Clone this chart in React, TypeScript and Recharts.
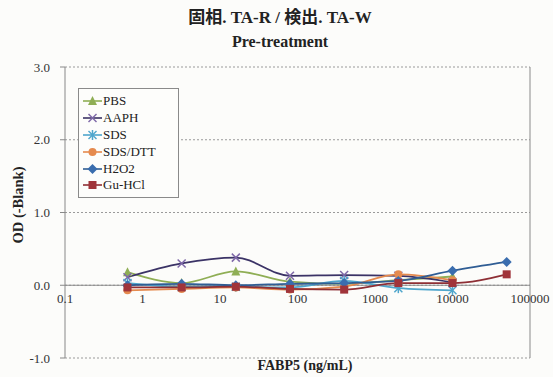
import { LineChart, Line, XAxis, YAxis, CartesianGrid, ReferenceLine } from "recharts";

// FABP5 concentrations (5-fold dilution series, ng/mL)
const conc = [0.64, 3.2, 16, 80, 400, 2000, 10000, 50000];

const pbs = [0.18, 0.03, 0.19, 0.05, 0.02, 0.07, 0.12];
const aaph = [0.11, 0.3, 0.38, 0.13, 0.14, 0.13, 0.04];
const sds = [0.03, -0.02, -0.02, -0.03, 0.06, -0.04, -0.07];
const sdsDtt = [-0.07, -0.05, -0.03, -0.06, -0.02, 0.15, 0.07];
const h2o2 = [0.0, 0.02, 0.0, 0.02, 0.03, 0.06, 0.2, 0.32];
const guHcl = [-0.03, -0.03, -0.02, -0.05, -0.06, 0.03, 0.03, 0.15];

const xTicks = [0.1, 1, 10, 100, 1000, 10000, 100000];
const yTicks = [-1, 0, 1, 2, 3];

const W = 553;
const H = 377;
const X_AXIS_H = 19;
const M = { top: 67, right: 23, bottom: 0, left: 20 };
const Y_AXIS_W = 45;
const PLOT_H = H - M.top - M.bottom - X_AXIS_H;
const ZERO_Y = M.top + (PLOT_H * 3) / 4;

const FONT = "'Liberation Serif', 'Times New Roman', serif";

type Shape = "triangle" | "x" | "star" | "circle" | "diamond" | "square";

const toPoints = (vals: number[]) => vals.map((v, i) => ({ x: conc[i], y: v }));

const series: { name: string; vals: number[]; stroke: string; fill: string; shape: Shape }[] = [
  { name: "PBS", vals: pbs, stroke: "#8FAE55", fill: "#8FAE55", shape: "triangle" },
  { name: "AAPH", vals: aaph, stroke: "#3B3366", fill: "#7E68A8", shape: "x" },
  { name: "SDS", vals: sds, stroke: "#4FA6CC", fill: "#4FA6CC", shape: "star" },
  { name: "SDS/DTT", vals: sdsDtt, stroke: "#E58A4E", fill: "#E58A4E", shape: "circle" },
  { name: "H2O2", vals: h2o2, stroke: "#2F5D94", fill: "#3A6DAE", shape: "diamond" },
  { name: "Gu-HCl", vals: guHcl, stroke: "#8E2F35", fill: "#A0343A", shape: "square" },
];

function Marker({ cx, cy, shape, color }: { cx: number; cy: number; shape: Shape; color: string }) {
  const s = 4;
  switch (shape) {
    case "triangle":
      return <polygon points={`${cx},${cy - s - 1} ${cx - s - 0.5},${cy + s} ${cx + s + 0.5},${cy + s}`} fill={color} />;
    case "x":
      return (
        <g stroke={color} strokeWidth={1.5}>
          <line x1={cx - s} y1={cy - s} x2={cx + s} y2={cy + s} />
          <line x1={cx - s} y1={cy + s} x2={cx + s} y2={cy - s} />
        </g>
      );
    case "star":
      return (
        <g stroke={color} strokeWidth={1.5}>
          <line x1={cx - s} y1={cy - s} x2={cx + s} y2={cy + s} />
          <line x1={cx - s} y1={cy + s} x2={cx + s} y2={cy - s} />
          <line x1={cx} y1={cy - s - 1} x2={cx} y2={cy + s + 1} />
        </g>
      );
    case "circle":
      return <circle cx={cx} cy={cy} r={s} fill={color} />;
    case "diamond":
      return <polygon points={`${cx},${cy - s - 1} ${cx + s + 1},${cy} ${cx},${cy + s + 1} ${cx - s - 1},${cy}`} fill={color} />;
    default:
      return <rect x={cx - s} y={cy - s} width={2 * s} height={2 * s} fill={color} />;
  }
}

// x tick labels sit just under the zero line, not at the bottom of the plot
function XTick({ x, payload }: any) {
  return (
    <text x={x} y={ZERO_Y + 18} textAnchor="middle" fontFamily={FONT} fontSize={13} fill="#333">
      {String(payload.value)}
    </text>
  );
}

function LegendBox() {
  return (
    <div
      style={{
        position: "absolute",
        left: 78,
        top: 88,
        border: "1px solid #8a8a8a",
        padding: "4px 6px 3px 4px",
        fontFamily: FONT,
        fontSize: 13,
        color: "#222",
        background: "#fdfdfb",
        width: 89,
        zIndex: 2,
      }}
    >
      {series.map((s) => (
        <div key={s.name} style={{ display: "flex", alignItems: "center", height: 16.8 }}>
          <svg width={19} height={12} style={{ marginRight: 1 }}>
            <line x1={0} y1={6} x2={19} y2={6} stroke={s.stroke} strokeWidth={1.6} />
            <Marker cx={9.5} cy={6} shape={s.shape} color={s.fill} />
          </svg>
          <span>{s.name}</span>
        </div>
      ))}
    </div>
  );
}

export default function App() {
  return (
    <div style={{ position: "absolute", left: 0, top: 0, width: W, height: H, background: "#fcfcfa" }}>
      <div
        style={{
          position: "absolute",
          left: 0,
          width: 560,
          top: 6,
          textAlign: "center",
          fontFamily: "'Liberation Serif', 'Noto Sans CJK JP', serif",
          fontWeight: "bold",
          fontSize: 17,
          lineHeight: "24px",
          color: "#222",
        }}
      >
        <div>固相. TA-R / 検出. TA-W</div>
        <div style={{ fontSize: 16 }}>Pre-treatment</div>
      </div>
      <div
        style={{
          position: "absolute",
          left: 18,
          top: 205,
          transform: "translate(-50%, -50%) rotate(-90deg)",
          whiteSpace: "nowrap",
          fontFamily: FONT,
          fontWeight: "bold",
          fontSize: 14.5,
          color: "#222",
        }}
      >
        OD (-Blank)
      </div>
      <div
        style={{
          position: "absolute",
          left: 305,
          top: 366,
          transform: "translate(-50%, -50%)",
          whiteSpace: "nowrap",
          fontFamily: FONT,
          fontWeight: "bold",
          fontSize: 14,
          color: "#222",
          zIndex: 2,
        }}
      >
        FABP5 (ng/mL)
      </div>
      <LegendBox />
      <LineChart width={W} height={H} margin={M}>
        <CartesianGrid vertical={false} stroke="#9a9a9a" strokeDasharray="2 2" />
        <XAxis
          type="number"
          dataKey="x"
          scale="log"
          domain={[0.1, 100000]}
          ticks={xTicks}
          allowDataOverflow
          axisLine={false}
          tickLine={false}
          height={X_AXIS_H}
          interval={0}
          tick={<XTick />}
        />
        <YAxis
          type="number"
          domain={[-1, 3]}
          ticks={yTicks}
          width={Y_AXIS_W}
          axisLine={{ stroke: "#888" }}
          tickLine={{ stroke: "#888" }}
          tickSize={5}
          tickMargin={10}
          tickFormatter={(v: number) => v.toFixed(1)}
          tick={{ fontFamily: FONT, fontSize: 13, fill: "#333" }}
        />
        <ReferenceLine y={0} stroke="#8a8a8a" strokeWidth={1.2} />
        <ReferenceLine x={100000} stroke="#8a8a8a" />
        {series.map((s) => (
          <Line
            key={s.name}
            data={toPoints(s.vals)}
            dataKey="y"
            name={s.name}
            type="monotone"
            stroke={s.stroke}
            strokeWidth={1.8}
            isAnimationActive={false}
            dot={(p: any) => <Marker key={`${s.name}-${p.index}`} cx={p.cx} cy={p.cy} shape={s.shape} color={s.fill} />}
            activeDot={false}
          />
        ))}
      </LineChart>
    </div>
  );
}
